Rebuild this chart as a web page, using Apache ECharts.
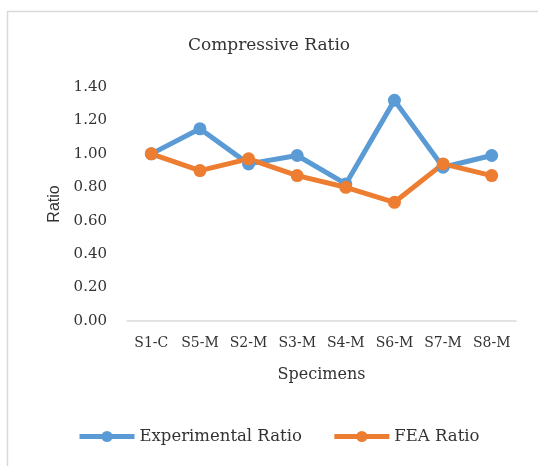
<!DOCTYPE html>
<html>
<head>
<meta charset="utf-8">
<script src="https://cdn.jsdelivr.net/npm/echarts@6/dist/echarts.min.js"></script>
<style>
  html, body { margin: 0; padding: 0; background: #ffffff; }
  #chart { width: 538px; height: 466px; }
</style>
</head>
<body>
<div id="chart"></div>
<script>
// Specimen labels along the category axis
const specimens = ['S1-C', 'S5-M', 'S2-M', 'S3-M', 'S4-M', 'S6-M', 'S7-M', 'S8-M'];
// Measured compressive ratios
const experimentalRatio = [1.00, 1.15, 0.94, 0.99, 0.82, 1.32, 0.92, 0.99];
// Finite element compressive ratios
const feaRatio = [1.00, 0.90, 0.97, 0.87, 0.80, 0.71, 0.94, 0.87];

const serif = '"DejaVu Serif", serif';
const textColor = '#333333';

const chart = echarts.init(document.getElementById('chart'), null, { renderer: 'canvas' });

chart.setOption({
  backgroundColor: '#ffffff',
  animation: false,
  graphic: [{
    type: 'rect',
    shape: { x: 7.5, y: 11.5, width: 540, height: 470 },
    style: { fill: 'none', stroke: '#d9d9d9', lineWidth: 1.5 },
    silent: true
  }],
  title: {
    text: 'Compressive Ratio',
    left: 'center',
    top: 32,
    textStyle: { fontFamily: serif, fontSize: 17, fontWeight: 'normal', color: textColor }
  },
  legend: {
    bottom: 16,
    left: 72,
    itemWidth: 55,
    itemHeight: 14,
    itemGap: 30,
    lineStyle: { width: 5 },
    textStyle: { fontFamily: serif, fontSize: 16.5, color: textColor, padding: [0, 0, 0, 0] },
    data: ['Experimental Ratio', 'FEA Ratio']
  },
  grid: { left: 127, right: 22, top: 87, bottom: 145, containLabel: false },
  xAxis: {
    type: 'category',
    data: specimens,
    boundaryGap: true,
    name: 'Specimens',
    nameLocation: 'middle',
    nameGap: 46,
    nameTextStyle: { fontFamily: serif, fontSize: 16, color: textColor },
    axisLine: { lineStyle: { color: '#d9d9d9', width: 1.5 } },
    axisTick: { show: false },
    axisLabel: { interval: 0, fontFamily: serif, fontSize: 14, color: textColor, margin: 15 }
  },
  yAxis: {
    type: 'value',
    min: 0,
    max: 1.4,
    interval: 0.2,
    name: 'Ratio',
    nameLocation: 'middle',
    nameGap: 63,
    nameRotate: 90,
    nameTextStyle: { fontFamily: '"Liberation Sans", Arial, sans-serif', fontSize: 16, color: textColor },
    axisLine: { show: false },
    axisTick: { show: false },
    splitLine: { show: false },
    axisLabel: {
      fontFamily: serif, fontSize: 15, color: textColor, margin: 20,
      formatter: v => v.toFixed(2)
    }
  },
  series: [
    {
      name: 'Experimental Ratio',
      type: 'line',
      data: experimentalRatio,
      symbol: 'circle',
      symbolSize: 13,
      lineStyle: { color: '#5b9bd5', width: 5 },
      itemStyle: { color: '#5b9bd5' }
    },
    {
      name: 'FEA Ratio',
      type: 'line',
      data: feaRatio,
      symbol: 'circle',
      symbolSize: 13,
      lineStyle: { color: '#ed7d31', width: 5 },
      itemStyle: { color: '#ed7d31' }
    }
  ]
});
</script>
</body>
</html>
